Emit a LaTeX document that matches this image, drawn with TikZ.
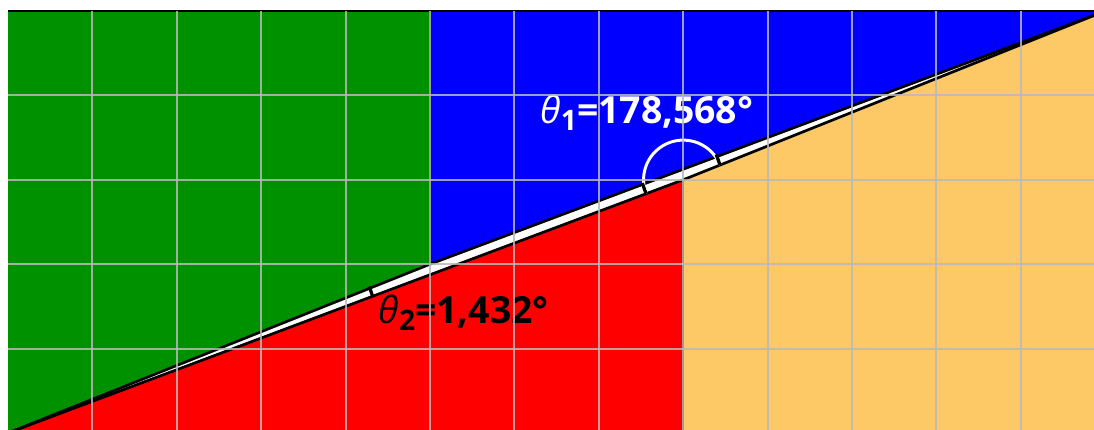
\documentclass[tikz,border=0pt]{standalone}
\usepackage{fontspec}
\setmainfont{Open Sans}
\definecolor{cgreen}{HTML}{009100}
\definecolor{cblue}{HTML}{0000FF}
\definecolor{cred}{HTML}{FF0000}
\definecolor{corange}{HTML}{FDC866}
\tikzset{
  edge/.style={draw=black, line width=0.9pt, line join=round},
  gridline/.style={draw=gray!55, line width=0.7pt, opacity=0.85},
  tick/.style={draw=black, line width=1.1pt},
  lbl/.style={font=\fontsize{12.6}{15}\selectfont\bfseries, inner sep=0pt, anchor=base},
}
\newcommand{\thsub}[1]{\textit{\mdseries θ}{\fontsize{9.5}{9.5}\selectfont\raisebox{-0.45ex}{#1}}}
\begin{document}
\begin{tikzpicture}[x=1cm,y=1cm]
\useasboundingbox (-0.095,0.047) rectangle (12.867,5.130);
\clip (-0.095,0.047) rectangle (12.867,5.130);
\fill[white] (-0.095,0.047) rectangle (12.867,5.130);
\coordinate (O) at (0,0);
\coordinate (P) at (5,2);
\coordinate (Q) at (8,3);
\coordinate (R) at (13,5);
% pieces
\fill[cgreen] (O) -- (P) -- (5,5) -- (0,5) -- cycle;
\fill[cblue] (P) -- (R) -- (5,5) -- cycle;
\fill[cred] (O) -- (Q) -- (8,0) -- (0,0) -- cycle;
\fill[corange] (Q) -- (R) -- (13,0) -- (8,0) -- cycle;
% outlines
\draw[edge] (O) -- (P) -- (R);
\draw[edge] (O) -- (Q) -- (R);
\draw[black, line width=0.5pt] (5,5) -- (P);
\draw[black, line width=0.5pt] (8,0) -- (Q);
\draw[black, line width=0.9pt] (0,5) -- (13.2,5);
% angle marks
\draw[white, line width=1pt] ([shift={(21.8:0.47)}]Q) arc[start angle=21.8, end angle=200.56, radius=0.47];
\coordinate (t1) at ([shift={(21.8:0.47)}]Q);
\coordinate (t2) at ([shift={(200.56:0.47)}]Q);
\draw[tick] (t1) -- ++(-0.045,0.125);
\draw[tick] (t2) -- ++(-0.045,0.125);
\coordinate (t3) at (4.32,1.62);
\draw[tick] (t3) -- ++(-0.04,0.115);
% labels
\node[lbl, text=white] (th1) at (7.57,3.67) {\thsub{1}=178,568°};
\node[lbl, text=black] (th2) at (5.40,1.30) {\thsub{2}=1,432°};
% grid
\foreach \x in {1,...,12} \draw[gridline] (\x,-0.1) -- (\x,5);
\foreach \y in {1,...,4} \draw[gridline] (0,\y) -- (13.2,\y);
\end{tikzpicture}
\end{document}
